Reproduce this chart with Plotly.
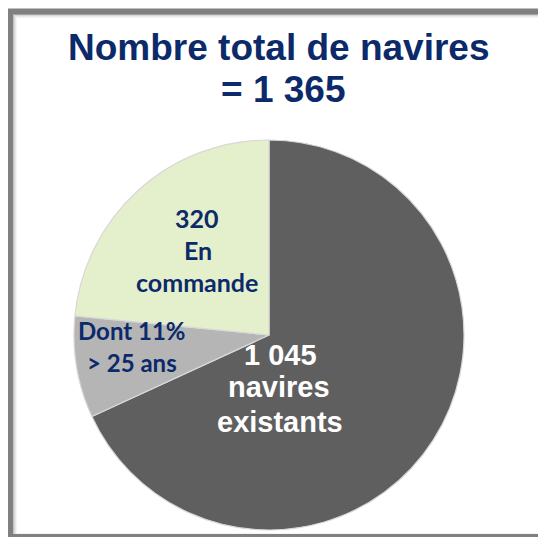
import plotly.graph_objects as go

# Data
slice_names = ["Navires existants (≤ 25 ans)", "Navires existants > 25 ans", "En commande"]
slice_values = [930, 115, 320]
slice_colors = ["#5f5f5f", "#b5b5b5", "#e4efcc"]

title_lines = ["Nombre total de navires", "= 1 365"]
existing_lines = ["1 045", "navires", "existants"]
old_lines = ["Dont 11%", "> 25 ans"]
order_lines = ["320", "En", "commande"]

NAVY = "#0c2a6a"
ARIAL = "Liberation Sans, Arial, sans-serif"
LATO = "Lato, sans-serif"

OFF = 8  # browser body margin
W, H = 538, 529
cx, cy, r = 269 - OFF, 335 - OFF, 195


def px(sx, sy):
    return (sx - OFF) / W, 1 - (sy - OFF) / H


fig = go.Figure()
fig.add_trace(go.Pie(
    labels=slice_names,
    values=slice_values,
    marker=dict(colors=slice_colors, line=dict(color="#d8d8d8", width=1.2)),
    sort=False,
    direction="clockwise",
    rotation=0,
    textinfo="none",
    hoverinfo="label+value",
    showlegend=False,
    domain=dict(x=[(cx - r) / W, (cx + r) / W], y=[(H - cy - r) / H, (H - cy + r) / H]),
))


def add_lines(lines, xs, baselines, size, color, family, k):
    for t, sx, b in zip(lines, xs, baselines):
        x, y = px(sx, b - k * size)
        fig.add_annotation(text="<b>" + t + "</b>", x=x, y=y, xref="paper", yref="paper",
                           showarrow=False, xanchor="center", yanchor="middle",
                           font=dict(color=color, family=family, size=size))


add_lines(title_lines, [278.5, 283], [60, 102], 37, NAVY, ARIAL, 0.35)
add_lines(existing_lines, [280, 279, 280], [365, 397, 432], 29, "#ffffff", ARIAL, 0.35)
add_lines(order_lines, [197, 197.5, 197], [228, 260, 292], 25, NAVY, LATO, 0.39)
add_lines(old_lines, [132, 132], [340, 372], 24, NAVY, LATO, 0.39)

# frame with soft inner shadow
shadow = ["#c4c4c4", "#d8d8d8", "#e8e8e8", "#f4f4f4"]
for i, c in enumerate(shadow):
    x0, y1 = px(13.5 + i, 14.5 + i)
    x1, y0 = px(560, 533.5)
    fig.add_shape(type="rect", xref="paper", yref="paper", x0=x0, x1=x1, y0=y0, y1=y1,
                  line=dict(color=c, width=1), layer="below")
x0, y1 = px(10, 11.5)
x1, y0 = px(560, 537)
fig.add_shape(type="rect", xref="paper", yref="paper", x0=x0, x1=x1, y0=y0, y1=y1,
              line=dict(color="#808080", width=6), layer="above")

fig.update_layout(width=W, height=H, margin=dict(l=0, r=0, t=0, b=0),
                  paper_bgcolor="white", plot_bgcolor="white")
fig.write_html("out.html")
